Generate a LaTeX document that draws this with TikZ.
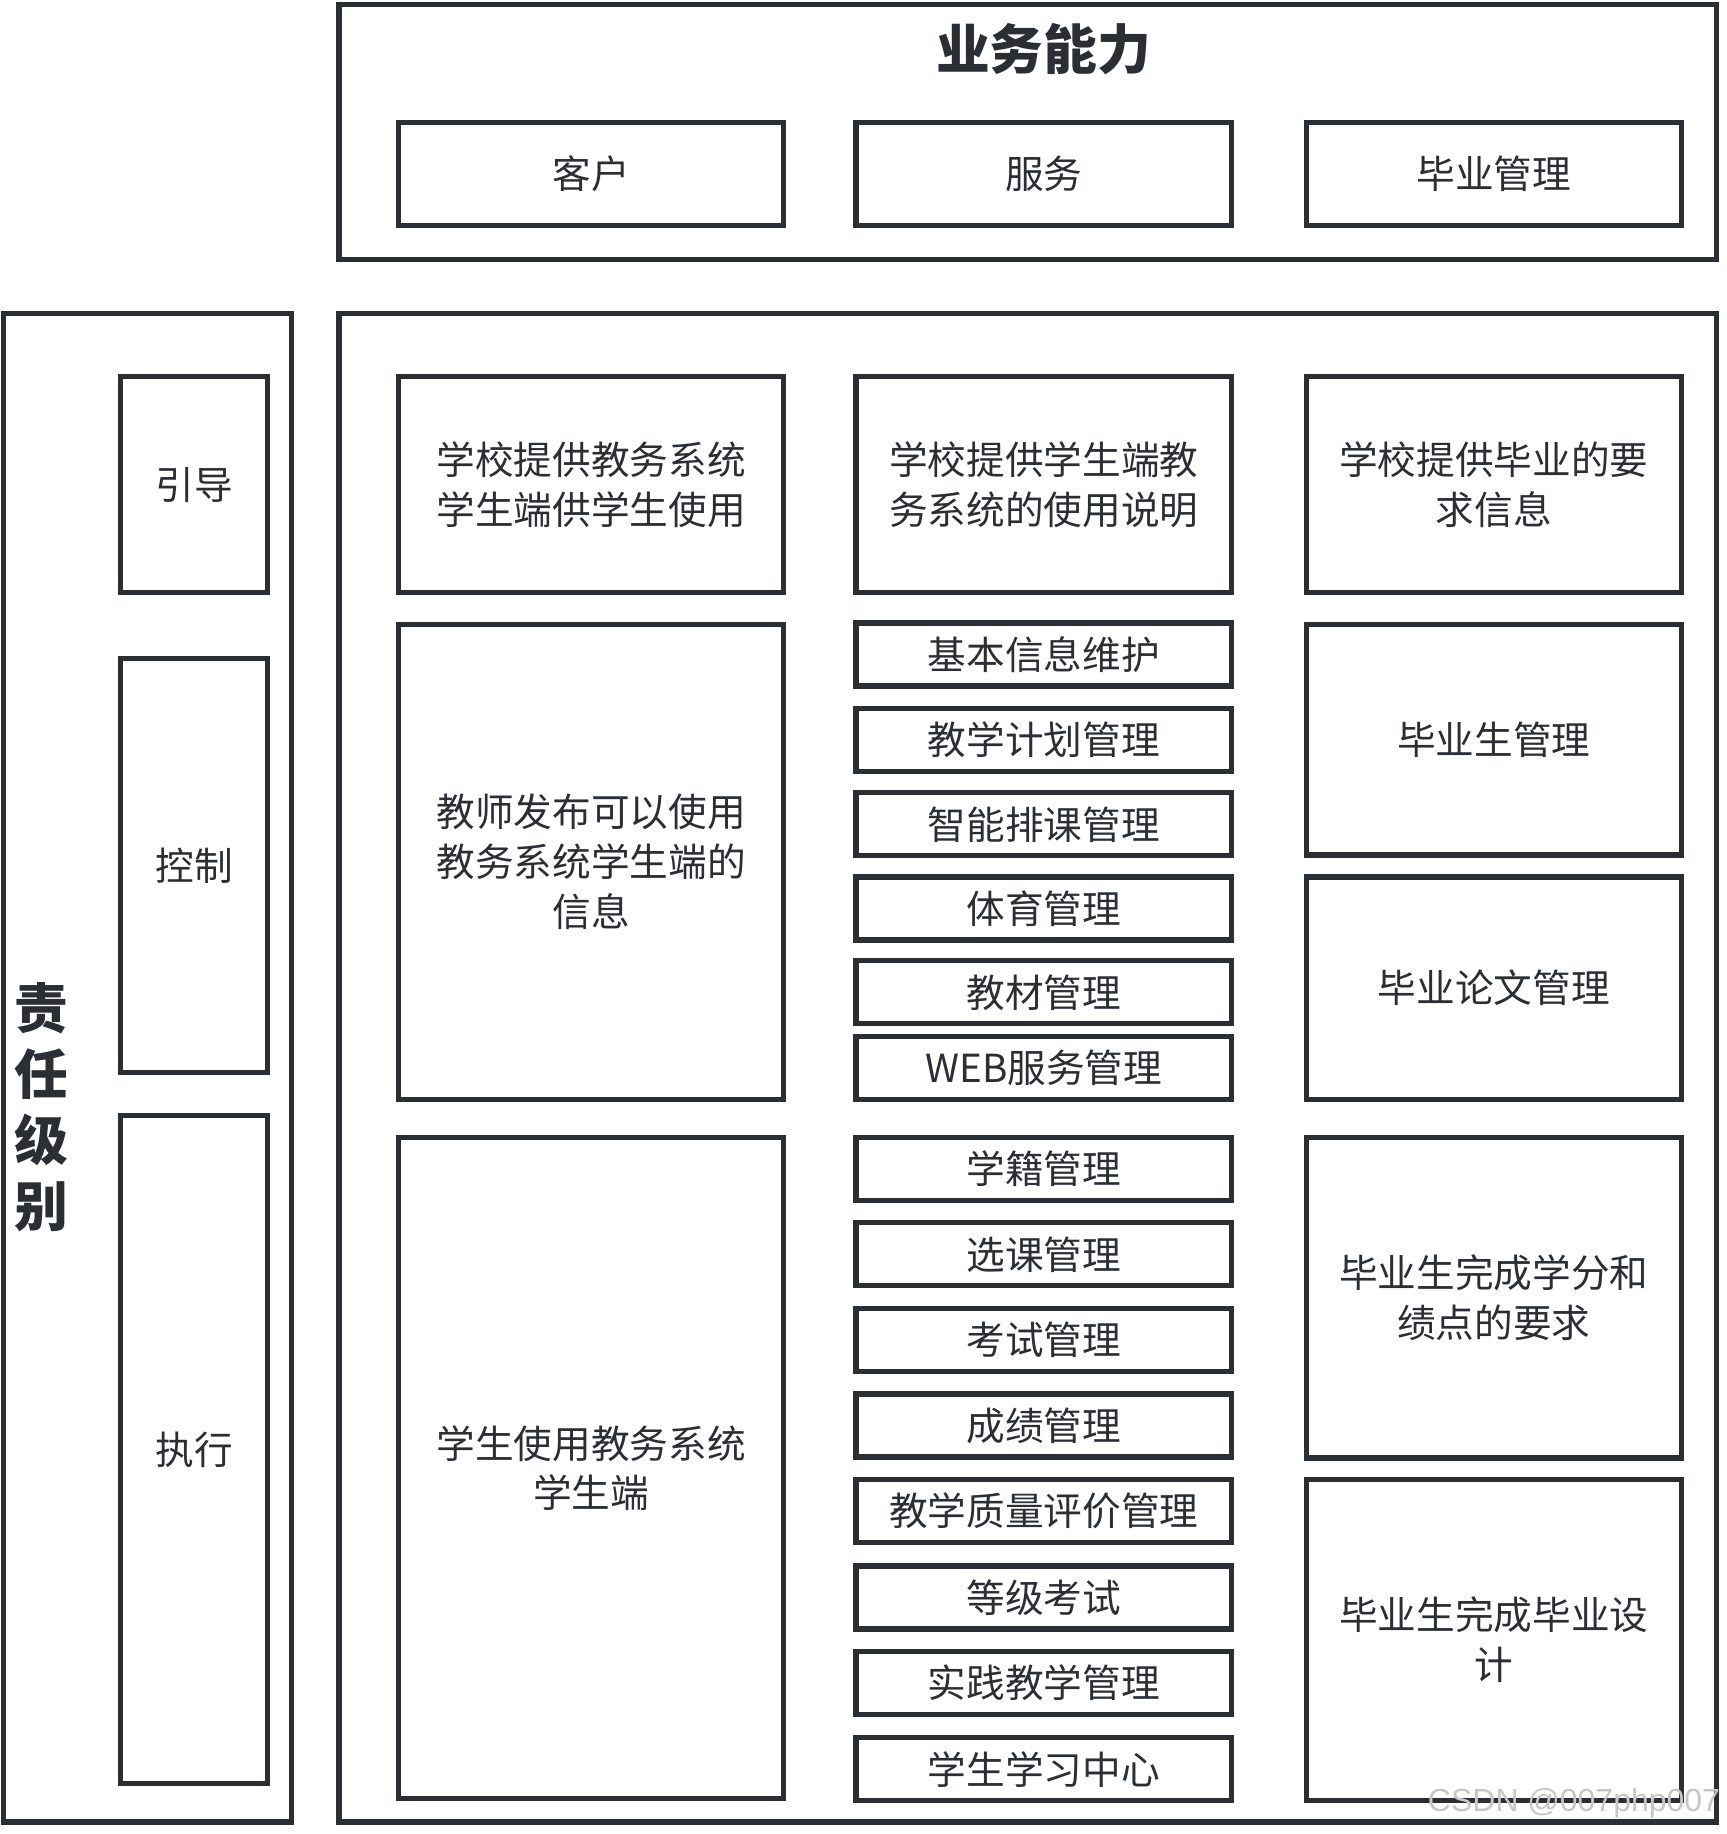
\documentclass[tikz,border=0pt]{standalone}
\usepackage{fontspec}
\setmainfont{Noto Sans CJK SC}
\newfontfamily\marchio{Liberation Sans}
\definecolor{bordo}{RGB}{43,47,51}
\tikzset{
  blocco/.style={draw=bordo, line width=1.5pt, text=bordo, align=center, inner sep=0pt,
    font=\fontsize{11}{14.2}\selectfont},
  titolo/.style={text=bordo, align=center, inner sep=0pt,
    font=\fontsize{15.3}{18.8}\selectfont\bfseries},
}
\begin{document}
\begin{tikzpicture}
    \useasboundingbox (0,0) rectangle (17.26,-18.34);

    % Capacita' di business (riquadro superiore)
    \node[blocco, minimum width=13.776cm, minimum height=2.549cm] (affari) at (10.279,-1.322) {};
    \node[titolo] (titolo) at (10.437,-0.49) {业务能力};
    \node[blocco, minimum width=3.847cm, minimum height=1.029cm] (clienti) at (5.911,-1.742) {客户};
    \node[blocco, minimum width=3.754cm, minimum height=1.029cm] (servizi) at (10.437,-1.742) {服务};
    \node[blocco, minimum width=3.754cm, minimum height=1.029cm] (laurea) at (14.939,-1.742) {毕业管理};

    % Livelli di responsabilita' (colonna sinistra)
    \node[blocco, minimum width=2.877cm, minimum height=15.085cm] (livelli) at (1.473,-10.676) {};
    \node[titolo] (resp) at (0.41,-11.07) {责\\任\\级\\别};
    \node[blocco, minimum width=1.473cm, minimum height=2.163cm] (guida) at (1.941,-4.847) {引导};
    \node[blocco, minimum width=1.473cm, minimum height=4.140cm] (controllo) at (1.941,-8.654) {控制};
    \node[blocco, minimum width=1.473cm, minimum height=6.677cm] (esecuzione) at (1.941,-14.495) {执行};

    % Riquadro principale
    \node[blocco, minimum width=13.776cm, minimum height=15.085cm] (corpo) at (10.279,-10.676) {};

    % Prima colonna
    \node[blocco, minimum width=3.847cm, minimum height=2.163cm] (scuola) at (5.911,-4.847) {学校提供教务系统\\学生端供学生使用};
    \node[blocco, minimum width=3.847cm, minimum height=4.748cm] (docenti) at (5.911,-8.618) {教师发布可以使用\\教务系统学生端的\\信息};
    \node[blocco, minimum width=3.847cm, minimum height=6.607cm] (studenti) at (5.911,-14.682) {学生使用教务系统\\学生端};

    % Seconda colonna
    \node[blocco, minimum width=3.754cm, minimum height=2.163cm] (manuale) at (10.437,-4.847) {学校提供学生端教\\务系统的使用说明};
    \node[blocco, minimum width=3.754cm, minimum height=0.63cm] (anagrafica) at (10.437,-6.545) {基本信息维护};
    \node[blocco, minimum width=3.754cm, minimum height=0.63cm] (piano) at (10.437,-7.398) {教学计划管理};
    \node[blocco, minimum width=3.754cm, minimum height=0.63cm] (orario) at (10.437,-8.243) {智能排课管理};
    \node[blocco, minimum width=3.754cm, minimum height=0.63cm] (sport) at (10.437,-9.084) {体育管理};
    \node[blocco, minimum width=3.754cm, minimum height=0.63cm] (libri) at (10.437,-9.923) {教材管理};
    \node[blocco, minimum width=3.754cm, minimum height=0.63cm] (web) at (10.437,-10.682) {WEB服务管理};
    \node[blocco, minimum width=3.754cm, minimum height=0.63cm] (iscrizione) at (10.437,-11.691) {学籍管理};
    \node[blocco, minimum width=3.754cm, minimum height=0.63cm] (corsi) at (10.437,-12.543) {选课管理};
    \node[blocco, minimum width=3.754cm, minimum height=0.63cm] (esami) at (10.437,-13.399) {考试管理};
    \node[blocco, minimum width=3.754cm, minimum height=0.63cm] (voti) at (10.437,-14.256) {成绩管理};
    \node[blocco, minimum width=3.754cm, minimum height=0.63cm] (qualita) at (10.437,-15.108) {教学质量评价管理};
    \node[blocco, minimum width=3.754cm, minimum height=0.63cm] (livello) at (10.437,-15.974) {等级考试};
    \node[blocco, minimum width=3.754cm, minimum height=0.63cm] (pratica) at (10.437,-16.831) {实践教学管理};
    \node[blocco, minimum width=3.754cm, minimum height=0.63cm] (centro) at (10.437,-17.692) {学生学习中心};

    % Terza colonna
    \node[blocco, minimum width=3.754cm, minimum height=2.163cm] (requisiti) at (14.939,-4.847) {学校提供毕业的要\\求信息};
    \node[blocco, minimum width=3.754cm, minimum height=2.304cm] (laureati) at (14.939,-7.397) {毕业生管理};
    \node[blocco, minimum width=3.754cm, minimum height=2.222cm] (tesi) at (14.939,-9.881) {毕业论文管理};
    \node[blocco, minimum width=3.754cm, minimum height=3.206cm] (crediti) at (14.939,-12.978) {毕业生完成学分和\\绩点的要求};
    \node[blocco, minimum width=3.754cm, minimum height=3.216cm] (progetto) at (14.939,-16.400) {毕业生完成毕业设\\计};

    % Filigrana
    \node[text=black!22, inner sep=0pt, font=\marchio\fontsize{9.1}{11}\selectfont] (filigrana) at (15.74,-18.03) {CSDN @007php007};
\end{tikzpicture}
\end{document}
